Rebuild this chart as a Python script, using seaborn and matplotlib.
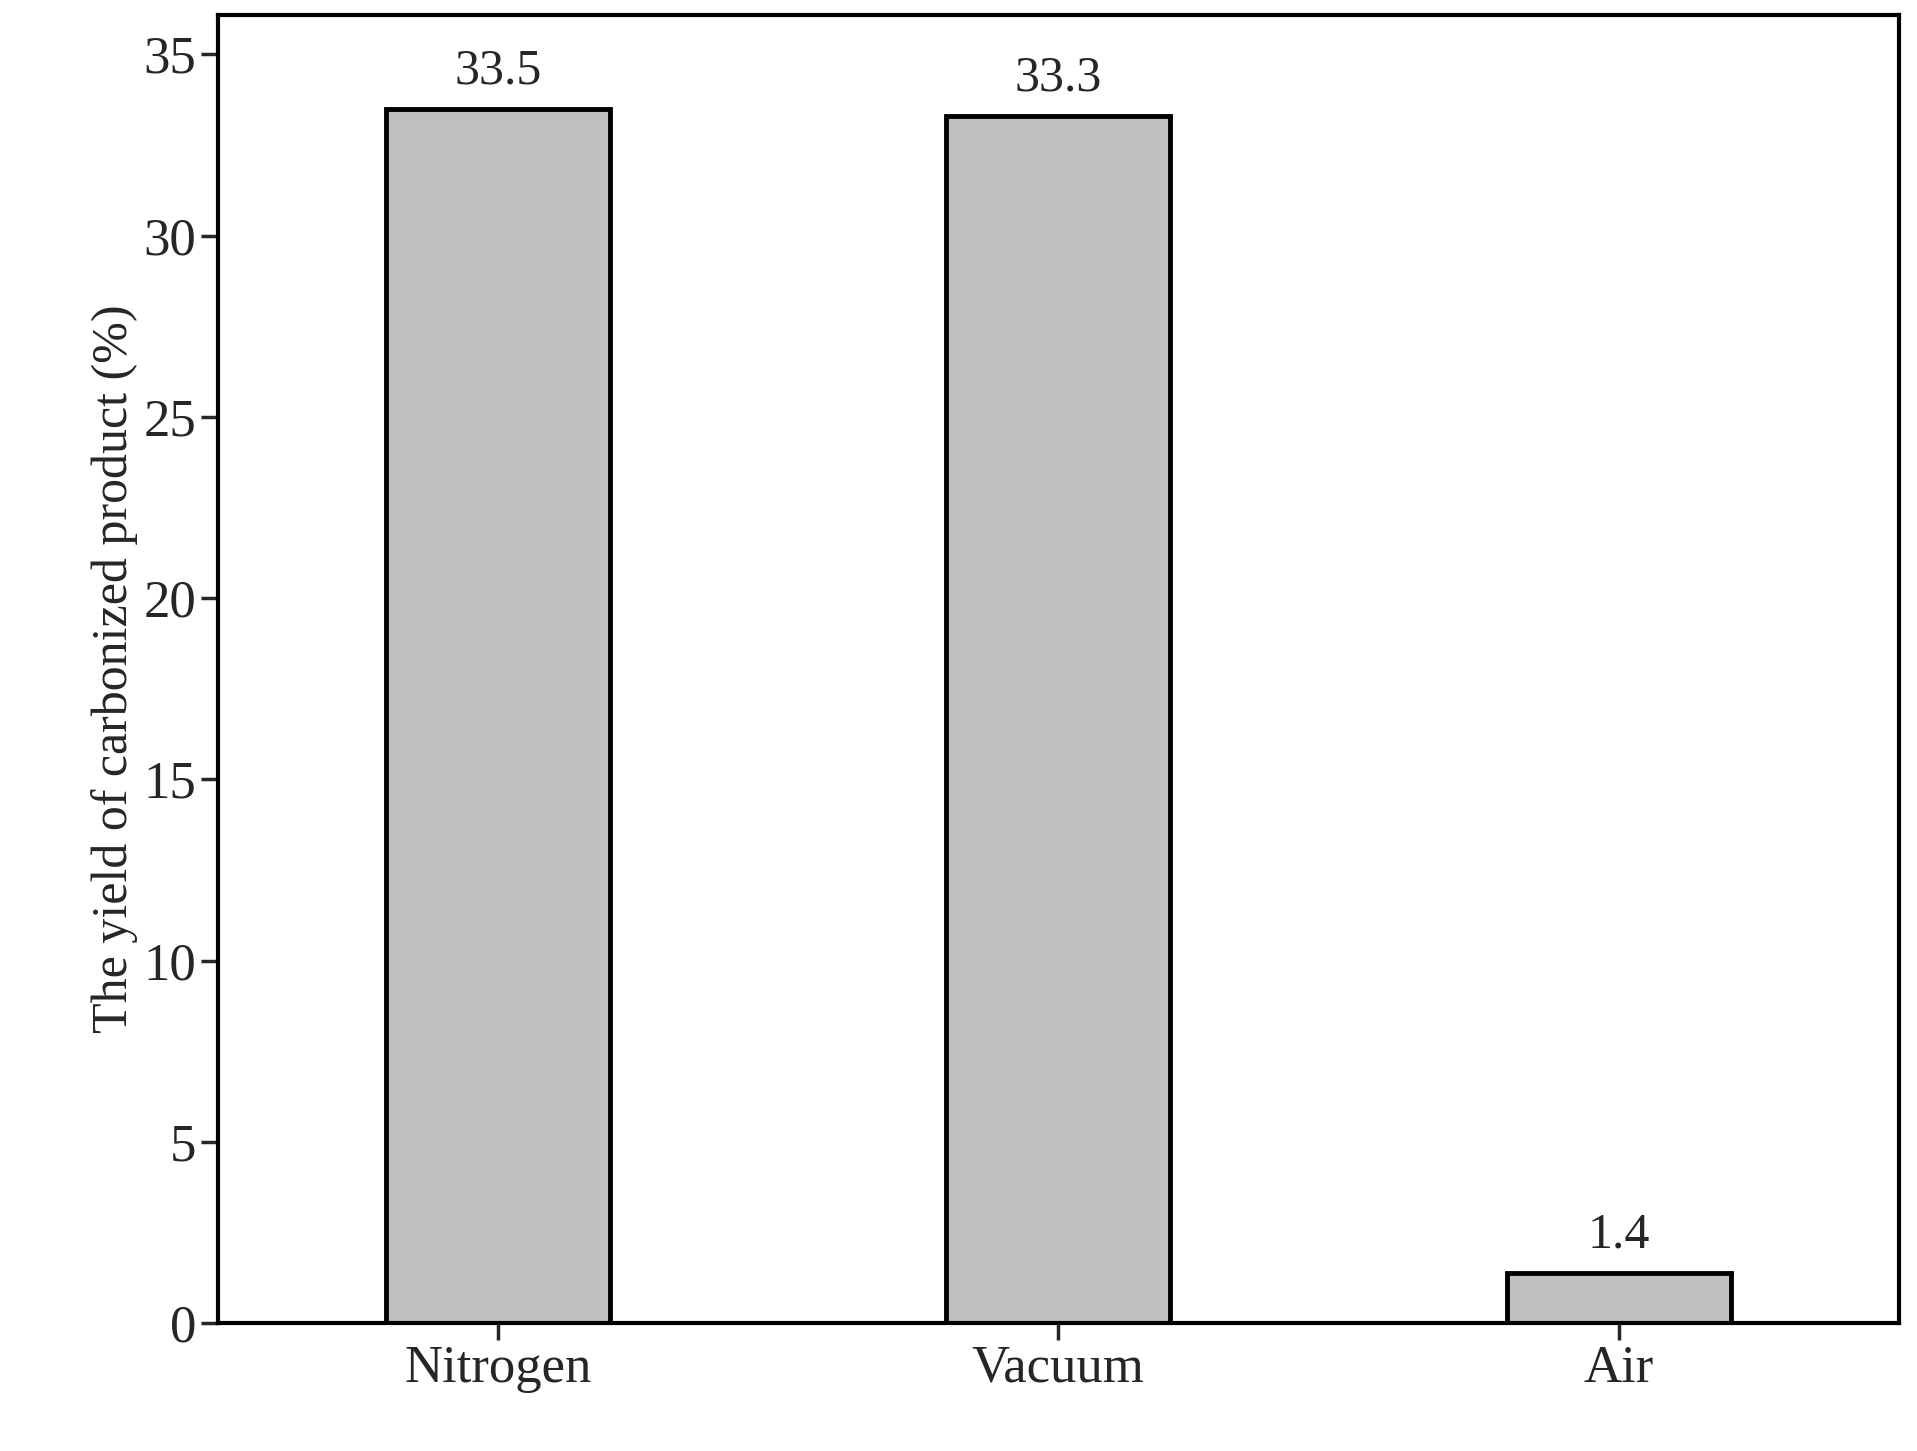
import matplotlib
matplotlib.use("Agg")
import matplotlib.pyplot as plt
import seaborn as sns
import pandas as pd

categories = ["Nitrogen", "Vacuum", "Air"]
yields = [33.5, 33.3, 1.4]
labels = ["33.5", "33.3", "1.4"]

sns.set_style("white")
plt.rcParams['font.family'] = ['Liberation Serif', 'DejaVu Serif']

df = pd.DataFrame({"cat": categories, "y": yields})
fig = plt.figure(figsize=(19.17, 14.51), dpi=100)
ax = fig.add_axes([0.1135, 0.088, 0.877, 0.902])
sns.barplot(data=df, x="cat", y="y", color="#c0c0c0", width=0.4,
            edgecolor="black", linewidth=3.5, saturation=1, ax=ax)
for i, (v, t) in enumerate(zip(yields, labels)):
    ax.text(i, v + 0.4, t, ha="center", va="bottom", fontsize=36)
ax.set_xlim(-0.5, 2.5)
ax.set_ylim(0, 36.1)
ax.set_yticks([0, 5, 10, 15, 20, 25, 30, 35])
ax.set_xlabel("")
ax.set_ylabel("The yield of carbonized product (%)", fontsize=36)
ax.tick_params(axis="both", labelsize=38, direction="out", length=12, width=2.5,
               left=True, bottom=True)
for s in ax.spines.values():
    s.set_linewidth(3)
    s.set_color("black")
fig.savefig("out.png", dpi=100)
